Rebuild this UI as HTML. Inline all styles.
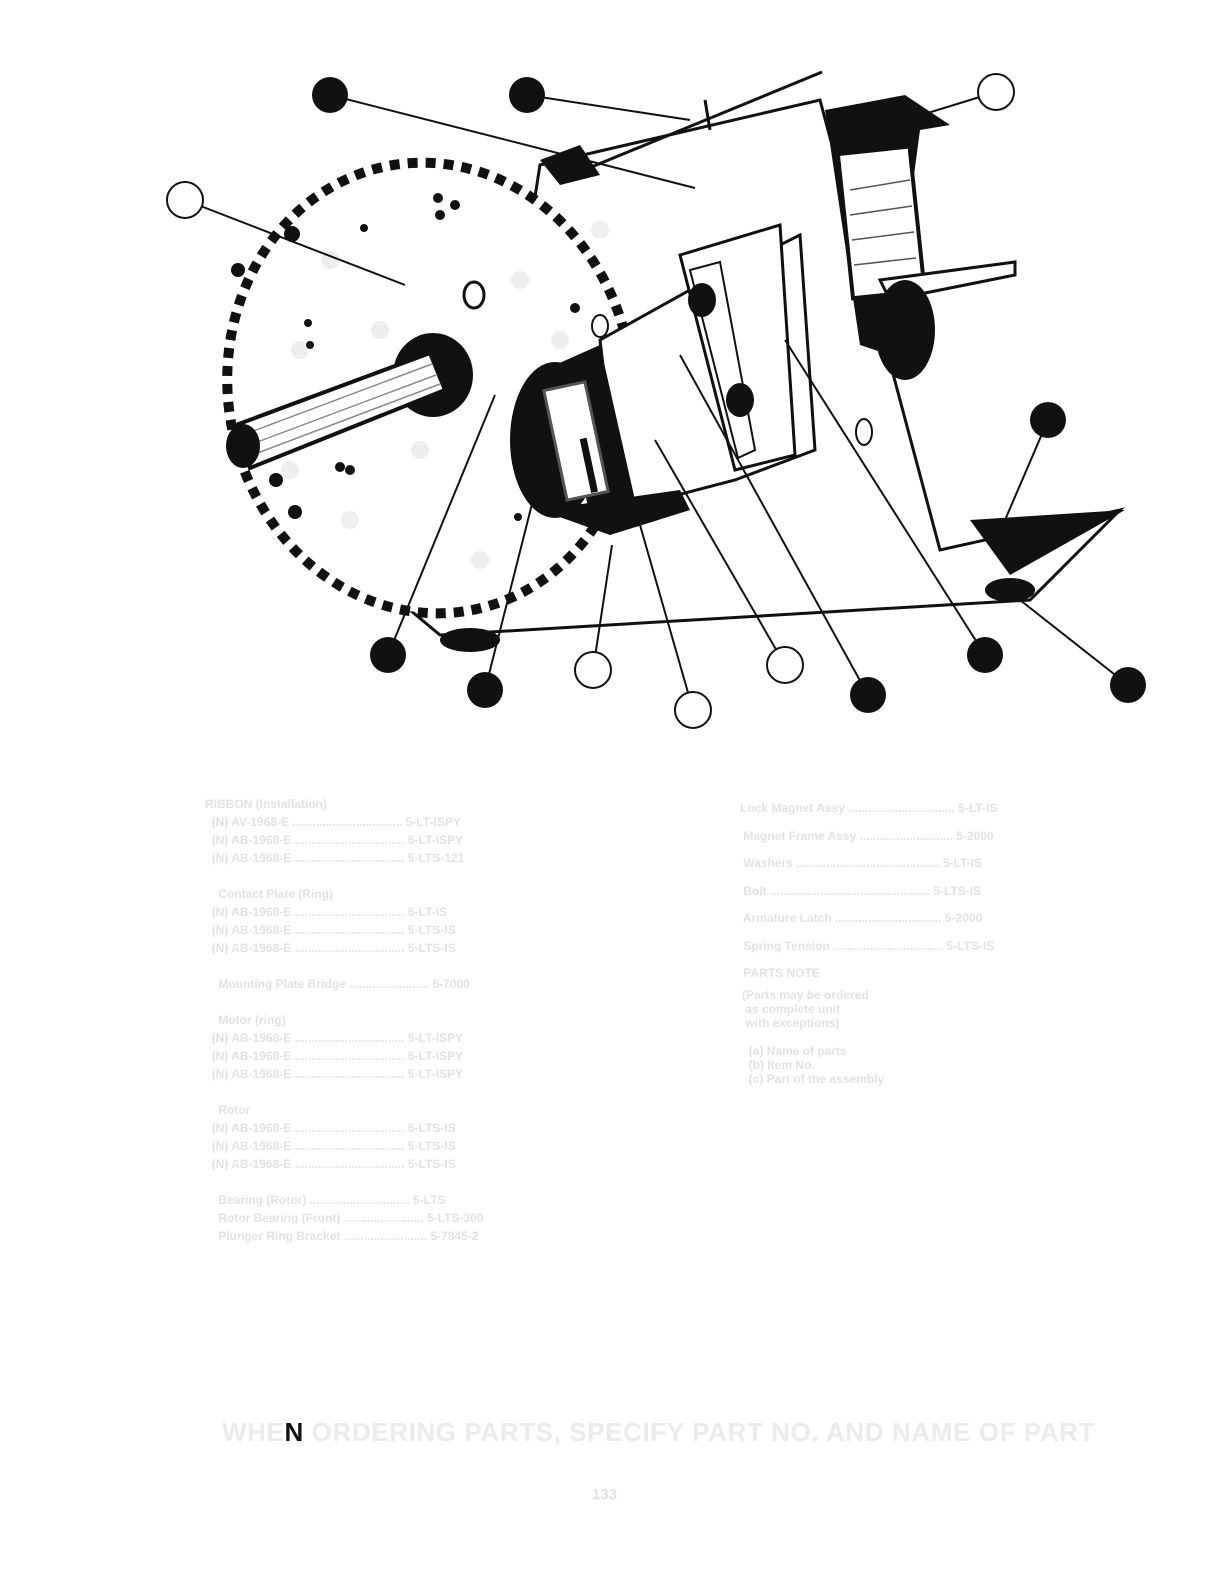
<!DOCTYPE html>
<html><head><meta charset="utf-8"><style>
html,body{margin:0;padding:0;background:#fff;}
body{width:1228px;height:1586px;position:relative;overflow:hidden;font-family:"Liberation Sans",sans-serif;}
.t{position:absolute;color:#e2e2e2;font-size:12px;font-weight:bold;white-space:pre;}
.big{position:absolute;left:222px;top:1417px;font-size:26px;font-weight:bold;color:#ebebeb;letter-spacing:0.6px;white-space:pre;}
</style></head><body>
<svg width="1228" height="780" style="position:absolute;left:0;top:0" xmlns="http://www.w3.org/2000/svg">
<polygon points="540,165 820,100 940,550 1120,510 1030,600 440,635 410,610 500,420" fill="#fff" stroke="#111" stroke-width="3"/>
<line x1="822" y1="72" x2="560" y2="180" stroke="#111" stroke-width="3"/>
<line x1="705" y1="100" x2="710" y2="130" stroke="#111" stroke-width="3"/>
<polygon points="540,160 580,145 600,175 560,185" fill="#111"/>
<polygon points="825,110 905,95 950,125 920,130 890,355 860,345" fill="#111"/>
<rect x="845" y="150" width="72" height="145" fill="#fff" stroke="#111" stroke-width="4" transform="rotate(-6 880 220)"/>
<g stroke="#555" stroke-width="1.5"><line x1="850" y1="190" x2="910" y2="180"/><line x1="850" y1="215" x2="912" y2="206"/><line x1="852" y1="240" x2="914" y2="232"/><line x1="854" y1="265" x2="916" y2="258"/></g>
<polygon points="880,280 1015,262 1015,275 890,300" fill="#fff" stroke="#111" stroke-width="3"/>
<ellipse cx="905" cy="330" rx="30" ry="50" fill="#111"/>
<polygon points="970,520 1125,510 1010,575" fill="#111"/>
<ellipse cx="1010" cy="590" rx="25" ry="12" fill="#111"/>
<ellipse cx="470" cy="640" rx="30" ry="12" fill="#111"/>
<ellipse cx="430" cy="388" rx="202" ry="226" fill="#fff" stroke="#111" stroke-width="10" stroke-dasharray="10 8" transform="rotate(-10 430 388)"/>
<ellipse cx="430" cy="388" rx="195" ry="219" fill="#fff" transform="rotate(-10 430 388)"/>
<g fill="#eee"><circle cx="330" cy="260" r="9"/><circle cx="380" cy="330" r="9"/><circle cx="300" cy="350" r="9"/><circle cx="520" cy="280" r="9"/><circle cx="560" cy="340" r="9"/><circle cx="350" cy="520" r="9"/><circle cx="420" cy="450" r="9"/><circle cx="480" cy="560" r="9"/><circle cx="600" cy="230" r="9"/><circle cx="290" cy="470" r="9"/></g>
<g fill="#111"><circle cx="438" cy="198" r="5"/><circle cx="455" cy="205" r="5"/><circle cx="440" cy="215" r="5"/><circle cx="364" cy="228" r="4"/><circle cx="308" cy="323" r="4"/><circle cx="310" cy="345" r="4"/><circle cx="340" cy="467" r="5"/><circle cx="350" cy="470" r="5"/><circle cx="575" cy="308" r="5"/><circle cx="518" cy="517" r="4"/><circle cx="292" cy="234" r="8"/><circle cx="238" cy="270" r="7"/><circle cx="276" cy="480" r="7"/><circle cx="295" cy="512" r="7"/></g>
<ellipse cx="474" cy="295" rx="10" ry="13" fill="#fff" stroke="#111" stroke-width="3"/>
<ellipse cx="600" cy="326" rx="8" ry="11" fill="#fff" stroke="#111" stroke-width="2"/>
<ellipse cx="433" cy="375" rx="40" ry="42" fill="#111"/>
<polygon points="236,425 430,353 445,390 250,468" fill="#fff" stroke="#111" stroke-width="4"/>
<g stroke="#888" stroke-width="1.5"><line x1="240" y1="436" x2="432" y2="364"/><line x1="244" y1="447" x2="436" y2="375"/><line x1="247" y1="457" x2="440" y2="384"/></g>
<ellipse cx="243" cy="446" rx="17" ry="22" fill="#111"/>
<polygon points="600,340 690,290 800,235 815,450 735,480 620,510" fill="#fff" stroke="#111" stroke-width="3"/>
<ellipse cx="555" cy="440" rx="45" ry="78" fill="#111"/>
<polygon points="555,365 600,345 635,500 590,515" fill="#111"/>
<rect x="555" y="385" width="42" height="112" fill="#fff" stroke="#555" stroke-width="3" transform="rotate(-12 576 441)"/>
<rect x="580" y="440" width="7" height="55" fill="#111" transform="rotate(-12 576 441)"/>
<polygon points="540,510 680,490 690,510 610,535" fill="#111"/>
<polygon points="680,255 780,225 795,455 735,470" fill="#fff" stroke="#111" stroke-width="3"/>
<polygon points="690,270 720,262 755,450 738,458" fill="#fff" stroke="#111" stroke-width="2"/>
<ellipse cx="702" cy="300" rx="14" ry="17" fill="#111"/>
<ellipse cx="740" cy="400" rx="14" ry="17" fill="#111"/>
<ellipse cx="864" cy="432" rx="8" ry="13" fill="#fff" stroke="#111" stroke-width="2"/>
<g stroke="#111" stroke-width="2" fill="none">
<line x1="330" y1="95" x2="695" y2="188"/><line x1="527" y1="95" x2="690" y2="120"/>
<line x1="996" y1="92" x2="905" y2="120"/><line x1="185" y1="200" x2="405" y2="285"/>
<line x1="1048" y1="420" x2="1005" y2="520"/><line x1="388" y1="655" x2="495" y2="395"/>
<line x1="485" y1="690" x2="533" y2="500"/><line x1="593" y1="670" x2="612" y2="545"/>
<line x1="693" y1="710" x2="640" y2="525"/><line x1="785" y1="665" x2="655" y2="440"/>
<line x1="868" y1="695" x2="680" y2="355"/><line x1="985" y1="655" x2="785" y2="340"/>
<line x1="1128" y1="685" x2="1020" y2="600"/>
</g>
<g fill="#111"><circle cx="330" cy="95" r="18"/><circle cx="527" cy="95" r="18"/><circle cx="1048" cy="420" r="18"/><circle cx="388" cy="655" r="18"/><circle cx="485" cy="690" r="18"/><circle cx="868" cy="695" r="18"/><circle cx="985" cy="655" r="18"/><circle cx="1128" cy="685" r="18"/></g>
<g fill="#fff" stroke="#111" stroke-width="2"><circle cx="996" cy="92" r="18"/><circle cx="185" cy="200" r="18"/><circle cx="593" cy="670" r="18"/><circle cx="785" cy="665" r="18"/><circle cx="693" cy="710" r="18"/></g>
</svg>
<div class="t" style="left:205px;top:795px;line-height:18px">RIBBON (Installation)
  (N) AV-1968-E ................................. 5-LT-ISPY
  (N) AB-1968-E ................................. 5-LT-ISPY
  (N) AB-1968-E ................................. 5-LTS-121

    Contact Plate (Ring)
  (N) AB-1968-E ................................. 5-LT-IS
  (N) AB-1968-E ................................. 5-LTS-IS
  (N) AB-1968-E ................................. 5-LTS-IS

    Mounting Plate Bridge ........................ 5-7000

    Motor (ring)
  (N) AB-1968-E ................................. 5-LT-ISPY
  (N) AB-1968-E ................................. 5-LT-ISPY
  (N) AB-1968-E ................................. 5-LT-ISPY

    Rotor
  (N) AB-1968-E ................................. 5-LTS-IS
  (N) AB-1968-E ................................. 5-LTS-IS
  (N) AB-1968-E ................................. 5-LTS-IS

    Bearing (Rotor) .............................. 5-LTS
    Rotor Bearing (Front) ........................ 5-LTS-300
    Plunger Ring Bracket ......................... 5-7845-2</div>
<div class="t" style="left:740px;top:795px;line-height:27.5px">Lock Magnet Assy ................................ 5-LT-IS
 Magnet Frame Assy ............................ 5-2000
 Washers ........................................... 5-LT-IS
 Bolt ................................................ 5-LTS-IS
 Armature Latch ................................ 5-2000
 Spring Tension ................................. 5-LTS-IS
 PARTS NOTE</div>
<div class="t" style="left:742px;top:988px;line-height:14px">(Parts may be ordered
 as complete unit
 with exceptions)

  (a) Name of parts
  (b) Item No.
  (c) Part of the assembly</div>
<div class="big">WHE<span style="color:#111">N</span> ORDERING PARTS, SPECIFY PART NO. AND NAME OF PART</div>
<div class="t" style="left:592px;top:1486px;font-size:15px">133</div>
</body></html>
